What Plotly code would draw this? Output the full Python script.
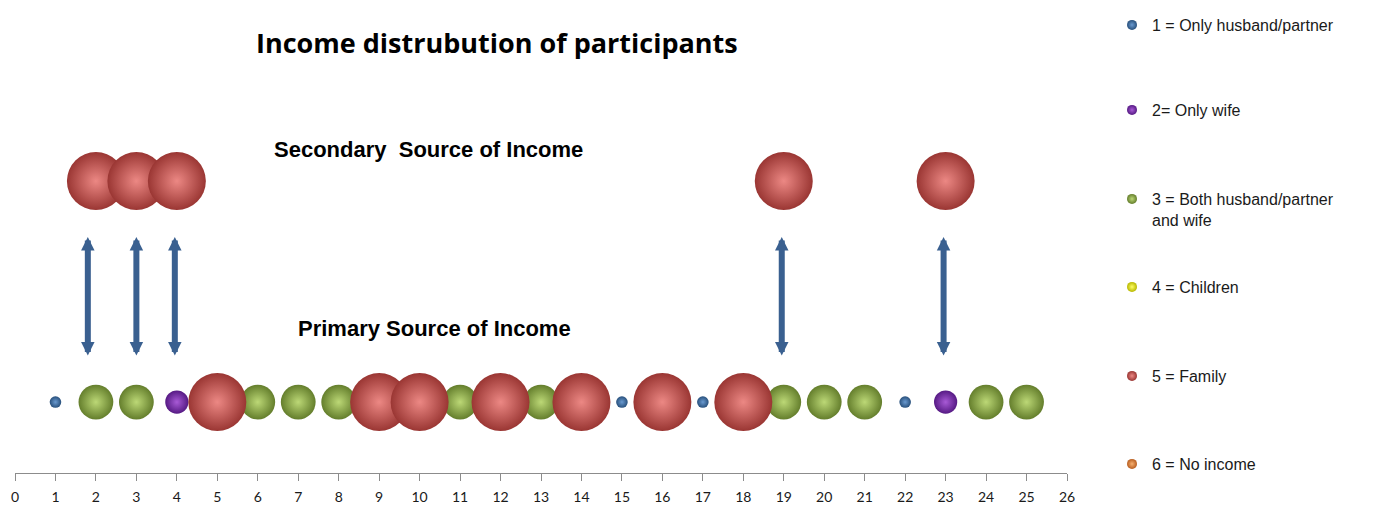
import plotly.graph_objects as go

# participant number -> primary source of income category
participants = list(range(1, 26))
primary_category = [1, 3, 3, 2, 5, 3, 3, 3, 5, 5, 3, 5, 3, 5, 1, 5, 1, 5, 3, 3, 3, 1, 2, 3, 3]

# participants that also have a secondary source
secondary_participants = [2, 3, 4, 19, 23]
secondary_category = [5, 5, 5, 5, 5]

# arrow positions (participant axis) linking primary and secondary rows
arrow_x = [1.8, 3.0, 3.95, 18.95, 22.95]

categories = [1, 2, 3, 4, 5, 6]
category_labels = [
    "1 = Only husband/partner",
    "2= Only wife",
    "3 = Both husband/partner<br>and wife",
    "4 = Children",
    "5 = Family",
    "6 = No income",
]
edge_colors = ["#28507c", "#561a84", "#647e2c", "#b8b800", "#9a3633", "#b85e20"]
center_colors = ["#6a9ad0", "#a85ad6", "#bcd876", "#ffff66", "#ec8884", "#f7b070"]

PRIMARY_LEVEL = 1
SECONDARY_LEVEL = 2
PX_PER_UNIT = 11.6

# the page puts the figure 8px in from the corner; map reference pixels to paper
def paper_x(px):
    return (px - 15) / 1052

def paper_y(py):
    return (473 - py) / 465

fig = go.Figure()

for cat, edge, center in zip(categories, edge_colors, center_colors):
    xs = [p for p, c in zip(participants, primary_category) if c == cat]
    ys = [PRIMARY_LEVEL] * len(xs)
    sx = [p for p, c in zip(secondary_participants, secondary_category) if c == cat]
    xs += sx
    ys += [SECONDARY_LEVEL] * len(sx)
    if xs:
        fig.add_trace(go.Scatter(
            x=xs, y=ys, mode="markers", showlegend=False, hoverinfo="x",
            marker=dict(size=[cat * PX_PER_UNIT] * len(xs), sizemode="diameter",
                        color=edge, opacity=1, line=dict(width=0),
                        gradient=dict(type="radial", color=center)),
        ))

legend_ids = ["legend", "legend2", "legend3", "legend4", "legend5", "legend6"]
for cat, label, edge, center, lid in zip(categories, category_labels, edge_colors, center_colors, legend_ids):
    fig.add_trace(go.Scatter(
        x=[None], y=[None], mode="markers", name=label, legend=lid,
        marker=dict(size=10, color=edge, opacity=1, line=dict(width=0),
                    gradient=dict(type="radial", color=center)),
    ))

for ax in arrow_x:
    fig.add_annotation(
        x=ax, y=1.747, ax=ax, ay=1.204, xref="x", yref="y", axref="x", ayref="y",
        text="", showarrow=True, arrowside="end+start",
        arrowhead=2, startarrowhead=2, arrowsize=0.45, startarrowsize=0.45,
        arrowwidth=6, arrowcolor="#3a6090", standoff=0, startstandoff=0,
    )

labels = [
    ("<b>Income distrubution of participants</b>", 497, 42, "Open Sans", 27),
    ("<b>Secondary  Source of Income</b>", 428, 149, "Liberation Sans", 22),
    ("<b>Primary Source of Income</b>", 434, 328, "Liberation Sans", 22),
]
for text, px, py, family, size in labels:
    fig.add_annotation(x=paper_x(px), y=paper_y(py), xref="paper", yref="paper",
                       xanchor="center", yanchor="middle", showarrow=False, text=text,
                       font=dict(family=family, size=size, color="#000000"))

legend_rows_px = [21, 110, 199, 287, 376, 464]
legend_layout = {}
for lid, py in zip(legend_ids, legend_rows_px):
    legend_layout[lid] = dict(
        x=paper_x(1112), xanchor="left",
        y=min(1.0, paper_y(py - 17)), yanchor="top",
        valign="top", bgcolor="rgba(0,0,0,0)", borderwidth=0,
        font=dict(family="Liberation Sans", size=16, color="#1a1a1a"),
    )

fig.update_layout(
    width=1373, height=508,
    margin=dict(l=7, r=314, t=0, b=43),
    plot_bgcolor="white", paper_bgcolor="white",
    xaxis=dict(range=[0, 26], dtick=1, tick0=0, showgrid=False, zeroline=False,
               showline=True, linecolor="#8c8c8c", linewidth=1,
               ticks="outside", ticklen=7, tickcolor="#8c8c8c",
               ticklabelstandoff=4,
               tickfont=dict(family="Lato", size=14, color="#1a1a1a")),
    yaxis=dict(range=[0.679, 2.783], visible=False),
    **legend_layout,
)

fig.write_html("out.html")
